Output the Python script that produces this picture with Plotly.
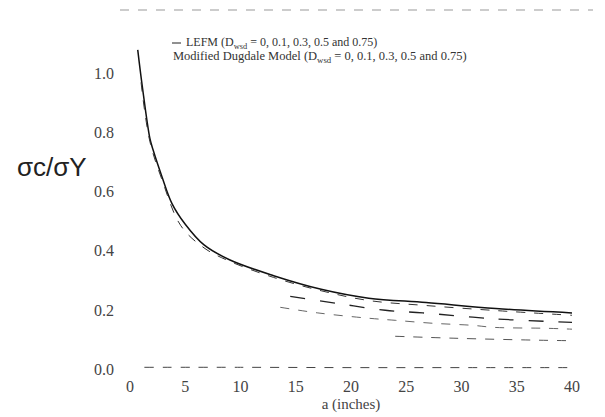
import plotly.graph_objects as go

# ---- data ----
a_lefm0 = [0.7, 1.1, 1.8, 2.1, 2.9, 3.8, 5.0, 6.7, 9.0, 13.0, 17.3, 21.6, 26.8, 33.1, 40.0]
s_lefm0 = [1.08, 0.96, 0.78, 0.74, 0.65, 0.56, 0.49, 0.42, 0.37, 0.316, 0.27, 0.24, 0.225, 0.205, 0.19]

a_dug0 = [1.0, 1.8, 2.9, 4.6, 6.7, 9.0, 13.0, 17.3, 21.6, 26.8, 33.1, 40.0]
s_dug0 = [0.97, 0.77, 0.64, 0.485, 0.41, 0.365, 0.31, 0.265, 0.232, 0.215, 0.198, 0.182]

a_d01 = [14.5, 18.8, 23.1, 26.5, 33.0, 40.0]
s_d01 = [0.246, 0.222, 0.199, 0.19, 0.17, 0.158]

a_d03 = [13.6, 17.0, 21.6, 24.0, 27.4, 31.0, 33.0, 37.7, 40.0]
s_d03 = [0.209, 0.19, 0.172, 0.165, 0.155, 0.148, 0.141, 0.138, 0.135]

a_d05 = [24.0, 29.7, 36.6, 40.0]
s_d05 = [0.111, 0.104, 0.098, 0.096]

a_d075 = [1.3, 10.0, 20.0, 30.0, 40.0]
s_d075 = [0.006, 0.006, 0.005, 0.005, 0.005]

x_ticks = [0, 5, 10, 15, 20, 25, 30, 35, 40]
x_tick_text = ["0", "5", "10", "15", "20", "25", "30", "35", "40"]
y_ticks = [0.0, 0.2, 0.4, 0.6, 0.8, 1.0]
y_tick_text = ["0.0", "0.2", "0.4", "0.6", "0.8", "1.0"]

legend_lines = [
    "LEFM (D<sub>wsd</sub> = 0, 0.1, 0.3, 0.5 and 0.75)",
    "Modified Dugdale Model (D<sub>wsd</sub> = 0, 0.1, 0.3, 0.5 and 0.75)",
]

fig = go.Figure()

def add(x, y, color, width, dash):
    fig.add_trace(go.Scatter(x=x, y=y, mode="lines",
                             line=dict(color=color, width=width, dash=dash, shape="spline"),
                             showlegend=False, hoverinfo="skip"))

add(a_lefm0, s_lefm0, "#111111", 1.5, "solid")
add(a_dug0, s_dug0, "#333333", 1.0, "dash")
add(a_d01, s_d01, "#222222", 1.3, "longdash")
add(a_d03, s_d03, "#666666", 1.0, "dash")
add(a_d05, s_d05, "#555555", 1.0, "dash")
add(a_d075, s_d075, "#444444", 1.0, "dash")

serif = "Liberation Serif, Times New Roman, serif"

L, R, T, B = 122, 41, 30, 50
W = 605 - L - R
H = 417 - T - B

def px(xp):
    return (xp - L) / W

def py(yp):
    return (417 - B - yp) / H

fig.update_layout(
    width=605, height=417,
    margin=dict(l=L, r=R, t=T, b=B),
    paper_bgcolor="white", plot_bgcolor="white",
    xaxis=dict(range=[0, 40], tickvals=x_ticks, ticktext=x_tick_text, showgrid=False, zeroline=False,
               showline=False, ticks="", tickfont=dict(family=serif, size=16, color="#444444"),
               title=dict(text="a (inches)", font=dict(family=serif, size=15, color="#444444"), standoff=4)),
    yaxis=dict(range=[-0.02, 1.12], tickvals=y_ticks, ticktext=y_tick_text, showgrid=False, zeroline=False,
               showline=False, ticks="", ticklabelstandoff=15,
               tickfont=dict(family=serif, size=16, color="#444444")),
)

# legend drawn as text
fig.add_shape(type="line", xref="paper", yref="paper", x0=px(164), x1=px(173),
              y0=py(35), y1=py(35), line=dict(color="#222222", width=1))
fig.add_annotation(text=legend_lines[0], xref="paper", yref="paper", x=px(176), y=py(35),
                   xanchor="left", yanchor="middle", showarrow=False,
                   font=dict(family=serif, size=12, color="#333333"))
fig.add_annotation(text=legend_lines[1], xref="paper", yref="paper", x=px(163), y=py(49),
                   xanchor="left", yanchor="middle", showarrow=False,
                   font=dict(family=serif, size=12.5, color="#333333"))

# y-axis title
fig.add_annotation(text="σc/σY", xref="paper", yref="paper", x=px(44), y=py(159),
                   xanchor="center", yanchor="middle", showarrow=False,
                   font=dict(family="Liberation Sans, Arial, sans-serif", size=26, color="#222222"))

# faint scan border at the top
fig.add_shape(type="line", xref="paper", yref="paper", x0=px(112), x1=px(585),
              y0=py(2), y1=py(2), line=dict(color="#999999", width=1, dash="dash"))

fig.write_html("out.html")
